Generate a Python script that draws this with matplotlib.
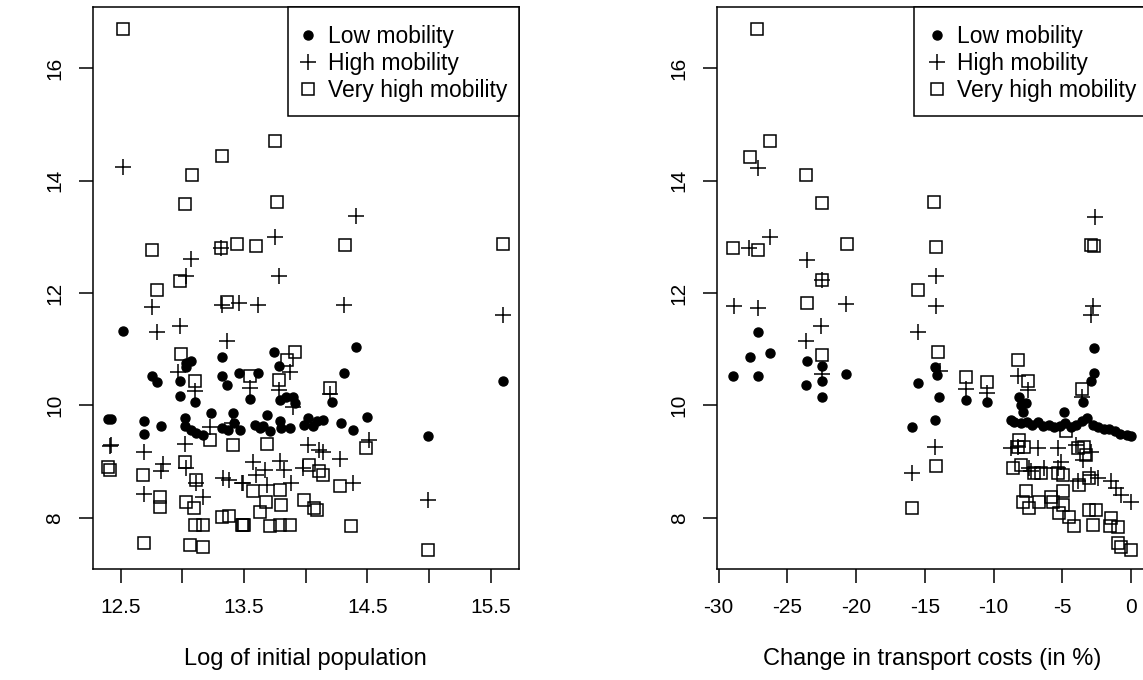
import numpy as np
import matplotlib.pyplot as plt
from matplotlib.lines import Line2D
from matplotlib.patches import Rectangle

plt.rcParams['font.family'] = ['Liberation Sans', 'DejaVu Sans']

# ---- left panel: log of initial population ----
pop_low_x = [12.52, 14.41, 15.60, 13.03, 13.07, 13.32, 13.74, 13.78, 12.75, 12.79,
             12.98, 13.10, 12.98, 13.32, 13.36, 13.46, 13.61, 13.55, 14.31, 13.79,
             13.84, 13.90, 13.91, 14.21, 14.50, 14.99, 12.40, 12.42, 12.69, 12.69,
             12.83, 13.02, 13.02, 13.07, 13.17, 13.23, 13.32, 13.41, 13.42, 13.47,
             13.59, 13.65, 13.69, 13.71, 13.79, 13.87, 13.99, 14.02, 14.09, 14.14,
             14.29, 14.38, 13.11, 13.37, 13.63, 13.80, 14.06, 13.03]
pop_low_y = [11.32, 11.04, 10.44, 10.75, 10.80, 10.87, 10.95, 10.71, 10.53, 10.41,
             10.44, 10.07, 10.17, 10.53, 10.36, 10.57, 10.57, 10.12, 10.57, 10.10,
             10.16, 10.16, 10.04, 10.07, 9.80, 9.46, 9.76, 9.76, 9.73, 9.49,
             9.64, 9.77, 9.64, 9.57, 9.48, 9.86, 9.60, 9.86, 9.69, 9.57,
             9.66, 9.64, 9.83, 9.54, 9.72, 9.60, 9.66, 9.77, 9.72, 9.75,
             9.69, 9.56, 9.51, 9.57, 9.60, 9.60, 9.63, 10.69]

pop_high_x = [12.52, 14.41, 13.07, 13.03, 13.31, 13.75, 13.78, 12.75, 13.32, 13.46,
              13.61, 14.31, 15.60, 12.79, 12.98, 13.36, 12.96, 13.10, 13.55, 13.78,
              13.87, 13.90, 14.20, 12.41, 12.42, 12.69, 12.84, 12.83, 12.69, 13.02,
              13.03, 13.11, 13.17, 13.33, 13.38, 13.48, 13.57, 13.67, 13.69, 13.79,
              13.82, 13.88, 14.02, 14.11, 14.14, 13.98, 14.28, 14.38, 14.51, 14.99,
              13.22, 13.40, 13.60, 13.49]
pop_high_y = [14.24, 13.38, 12.60, 12.30, 12.81, 13.00, 12.30, 11.76, 11.78, 11.82,
              11.79, 11.79, 11.61, 11.30, 11.42, 11.15, 10.59, 10.25, 10.31, 10.28,
              10.60, 9.98, 10.20, 9.28, 9.30, 9.18, 8.96, 8.84, 8.42, 9.32,
              8.88, 8.62, 8.38, 8.71, 8.68, 8.62, 9.00, 8.86, 8.59, 9.02,
              8.86, 8.62, 9.30, 9.21, 9.18, 8.88, 9.05, 8.62, 9.38, 8.31,
              9.62, 9.68, 8.77, 8.62]

pop_vhigh_x = [12.52, 13.08, 13.32, 13.75, 13.02, 13.77, 15.60, 12.75, 12.98, 12.79,
               13.31, 13.44, 13.60, 14.32, 13.36, 12.99, 13.91, 13.85, 13.10, 13.55,
               13.78, 14.20, 12.40, 12.41, 12.68, 12.82, 12.82, 12.69, 13.22, 13.41,
               13.69, 13.02, 13.11, 13.03, 13.09, 13.10, 13.17, 13.06, 13.17, 13.32,
               13.38, 13.48, 13.50, 14.03, 14.11, 14.14, 13.57, 13.79, 14.28, 13.68,
               13.80, 13.63, 13.99, 14.07, 14.09, 13.49, 13.71, 13.79, 13.87, 14.37,
               14.49, 14.99]
pop_vhigh_y = [16.70, 14.10, 14.44, 14.71, 13.59, 13.63, 12.88, 12.77, 12.22, 12.06,
               12.81, 12.88, 12.83, 12.85, 11.84, 10.91, 10.96, 10.81, 10.43, 10.52,
               10.46, 10.31, 8.91, 8.85, 8.77, 8.38, 8.20, 7.55, 9.39, 9.29,
               9.31, 9.00, 8.68, 8.29, 8.17, 7.88, 7.88, 7.52, 7.49, 8.02,
               8.04, 7.88, 7.88, 8.94, 8.83, 8.77, 8.47, 8.50, 8.56, 8.29,
               8.23, 8.11, 8.32, 8.17, 8.14, 7.88, 7.85, 7.88, 7.88, 7.86,
               9.24, 7.43]

# ---- right panel: change in transport costs (in %) ----
tc_low_x = [-27.13, -2.67, -27.69, -26.30, -28.95, -27.13, -23.56, -22.51, -22.51, -22.51,
            -23.68, -20.77, -14.28, -14.13, -15.49, -13.96, -14.28, -15.91, -12.02, -10.49,
            -3.51, -2.71, -2.91, -4.85, -8.74, -8.13, -8.01, -7.89, -7.65,
            -8.5, -8.0, -7.6, -7.2, -6.8, -6.4, -6.0, -5.6, -5.2, -4.8,
            -4.4, -4.0, -3.6, -3.2, -2.8, -2.4, -2.0, -1.6, -1.2, -0.8,
            -0.3, 0.0]
tc_low_y = [11.30, 11.03, 10.86, 10.93, 10.53, 10.53, 10.80, 10.70, 10.43, 10.15,
            10.36, 10.56, 10.69, 10.54, 10.40, 10.16, 9.74, 9.61, 10.09, 10.06,
            10.07, 10.57, 10.43, 9.89, 9.74, 10.16, 10.01, 9.89, 10.04,
            9.70, 9.68, 9.70, 9.66, 9.70, 9.64, 9.66, 9.62, 9.64, 9.68,
            9.62, 9.66, 9.72, 9.78, 9.66, 9.62, 9.58, 9.58, 9.54, 9.50,
            9.47, 9.45]

tc_high_x = [-27.16, -2.59, -27.81, -26.28, -23.56, -22.51, -14.21, -28.91, -27.16, -20.77,
             -14.21, -2.79, -2.91, -22.54, -15.49, -23.68, -22.51, -13.89, -14.26, -15.91,
             -12.02, -10.51, -8.25, -7.48, -3.55, -8.74, -8.25, -6.79, -5.34, -4.00,
             -2.91, -7.41, -7.28, -6.31, -5.34, -5.09, -3.88, -2.91, -2.42, -1.45,
             -1.09, 0.0, -3.51, -0.72]
tc_high_y = [14.23, 13.36, 12.81, 12.99, 12.59, 12.24, 12.30, 11.77, 11.74, 11.81,
             11.77, 11.77, 11.61, 11.41, 11.30, 11.14, 10.56, 10.61, 9.27, 8.80,
             10.30, 10.23, 10.52, 10.28, 10.16, 9.24, 9.27, 9.24, 9.24, 9.30,
             9.18, 8.88, 8.83, 8.88, 8.88, 9.00, 8.65, 8.77, 8.71, 8.65,
             8.53, 8.29, 9.03, 8.41]

tc_vhigh_x = [-27.20, -26.28, -27.69, -23.63, -22.51, -14.33, -2.91, -2.67, -28.95, -27.13,
              -20.69, -14.18, -22.51, -15.49, -23.61, -22.51, -14.08, -14.21, -15.91, -12.02,
              -10.51, -8.21, -7.52, -3.59, -8.13, -7.81, -3.88, -3.27, -3.39, -4.73,
              -8.62, -8.01, -7.04, -6.55, -5.34, -4.97, -7.65, -7.89, -7.40, -6.68,
              -5.70, -5.82, -4.97, -4.97, -5.22, -4.49, -4.12, -3.03, -2.54, -2.79,
              -1.45, -1.57, -0.96, -0.96, -0.72, 0.0, -3.76, -3.03, -8.25]
tc_vhigh_y = [16.70, 14.71, 14.43, 14.10, 13.60, 13.63, 12.86, 12.84, 12.80, 12.77,
              12.88, 12.82, 12.24, 12.06, 11.83, 10.90, 10.95, 8.93, 8.17, 10.50,
              10.41, 10.81, 10.44, 10.30, 9.39, 9.27, 9.24, 9.12, 9.27, 9.54,
              8.88, 8.94, 8.80, 8.80, 8.80, 8.77, 8.47, 8.29, 8.17, 8.29,
              8.29, 8.38, 8.47, 8.23, 8.08, 8.02, 7.85, 8.14, 8.14, 7.88,
              8.00, 7.85, 7.83, 7.55, 7.49, 7.43, 8.59, 8.71, 9.27]

labels = ['Low mobility', 'High mobility', 'Very high mobility']
FS_LAB = 17
FS_TICK = 15
FS_LEG = 16.5

fig = plt.figure(figsize=(11.43, 6.8), dpi=100)
ax1 = fig.add_axes([0.0811, 0.1632, 0.3727, 0.826])
ax2 = fig.add_axes([0.6275, 0.1632, 0.3760, 0.826])


def draw_panel(ax, series, xlim, xticks, xticklabels, xlabel):
    (lx, ly), (hx, hy), (vx, vy) = series
    ax.plot(lx, ly, 'o', color='black', ms=6.5, ls='none')
    ax.plot(hx, hy, '+', color='black', ms=11.5, mew=1.1, ls='none')
    ax.plot(vx, vy, 's', mfc='none', mec='black', ms=8.5, mew=1.1, ls='none')
    ax.set_xlim(*xlim)
    ax.set_ylim(7.09, 17.085)
    ax.set_xticks(xticks)
    ax.set_xticklabels(xticklabels)
    ax.set_yticks([8, 10, 12, 14, 16])
    ax.set_yticklabels(['8', '10', '12', '14', '16'], rotation=90, va='center')
    ax.tick_params(length=10, width=1.1, labelsize=FS_TICK, pad=11)
    ax.tick_params(axis='y', pad=10.5)
    for s in ax.spines.values():
        s.set_linewidth(1.1)
    ax.set_xlabel(xlabel, fontsize=FS_LAB, labelpad=22)

    # legend box (R style: square frame sharing the top-right corner)
    ax.add_patch(Rectangle((0.458, 0.8065), 0.542, 0.1935, transform=ax.transAxes,
                           facecolor='white', edgecolor='black', lw=1.1,
                           zorder=4, clip_on=False))
    handles = [Line2D([], [], marker='o', color='black', ms=6.5, ls='none'),
               Line2D([], [], marker='+', color='black', ms=11.5, mew=1.1, ls='none'),
               Line2D([], [], marker='s', mfc='none', mec='black', ms=8.5, mew=1.1, ls='none')]
    leg = ax.legend(handles, labels, loc='upper right', bbox_to_anchor=(1, 0.9888),
                    fontsize=FS_LEG, borderaxespad=0, frameon=False, handlelength=0.79,
                    handletextpad=0.48, borderpad=0.48, labelspacing=0.19)
    leg.set_zorder(5)


draw_panel(ax1, [(pop_low_x, pop_low_y), (pop_high_x, pop_high_y), (pop_vhigh_x, pop_vhigh_y)],
           (12.272, 15.728), [12.5, 13.0, 13.5, 14.0, 14.5, 15.0, 15.5],
           ['12.5', '', '13.5', '', '14.5', '', '15.5'], 'Log of initial population')
draw_panel(ax2, [(tc_low_x, tc_low_y), (tc_high_x, tc_high_y), (tc_vhigh_x, tc_vhigh_y)],
           (-30.108, 1.158), [-30, -25, -20, -15, -10, -5, 0],
           ['-30', '-25', '-20', '-15', '-10', '-5', '0'], 'Change in transport costs (in %)')

fig.savefig('out.png', dpi=100)
